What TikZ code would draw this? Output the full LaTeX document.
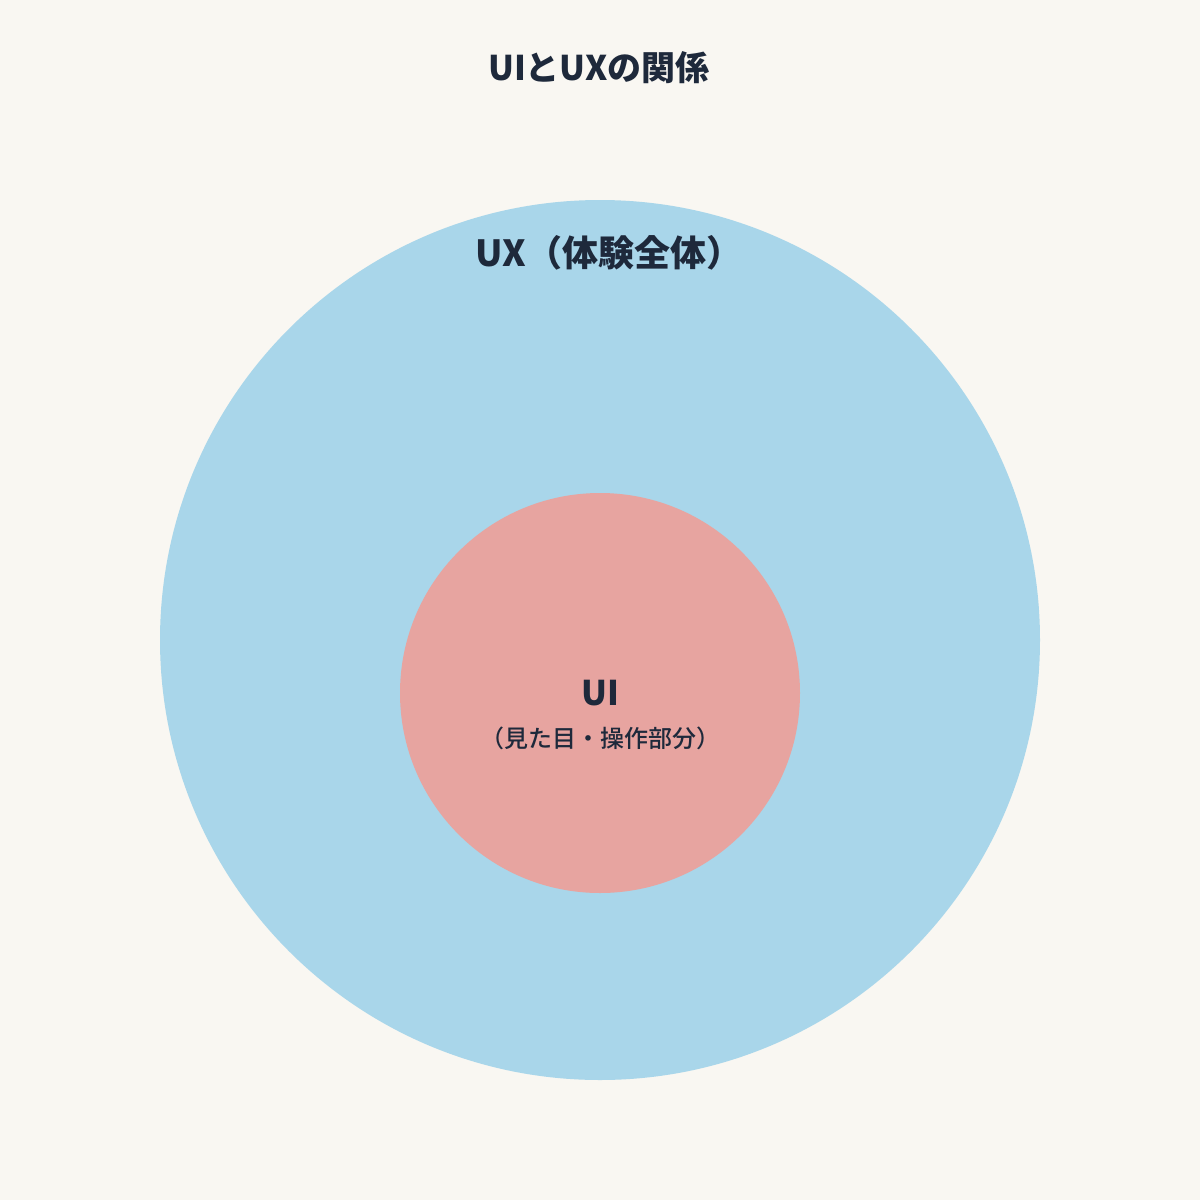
\documentclass[tikz,border=0pt]{standalone}
\usepackage{fontspec}
\setmainfont{Noto Sans CJK JP}
\newfontfamily\jpmed{Noto Sans CJK JP Medium}
\definecolor{ux_bg}{RGB}{249, 247, 242}
\definecolor{ux_blue}{RGB}{169, 214, 234}
\definecolor{ux_red}{RGB}{231, 164, 160}
\definecolor{ux_text}{RGB}{30, 41, 59}
\usepackage{tikz}
\usetikzlibrary{positioning}

\begin{document}
\begin{tikzpicture}[x=1pt, y=-1pt,
        ring/.style={circle, inner sep=0pt, draw=none},
        ttl/.style={font=\fontsize{34}{40}\selectfont\bfseries, text=ux_text, inner sep=0pt},
        sub/.style={font=\fontsize{24}{28}\selectfont\jpmed, text=ux_text, inner sep=0pt},
      ]
        % Background
        \fill[ux_bg] (0,0) rectangle (1200,1200);
        \useasboundingbox (0,0) rectangle (1200,1200);

        \node[ring, fill=ux_blue, minimum size=880pt] (ux) at (600,640) {};
        \node[ring, fill=ux_red,  minimum size=400pt] (ui) at (600,693) {};

        % Labels
        \node[ttl] (title) at (599,68)  {UIとUXの関係};
        \node[ttl, font=\fontsize{36}{40}\selectfont\bfseries] (uxlbl) at (609,253) {UX（体験全体）};
        \node[ttl] (uilbl) at (600,693) {UI};
        \node[sub] (uisub) at (600,738) {（見た目・操作部分）};
      \end{tikzpicture}
\end{document}
